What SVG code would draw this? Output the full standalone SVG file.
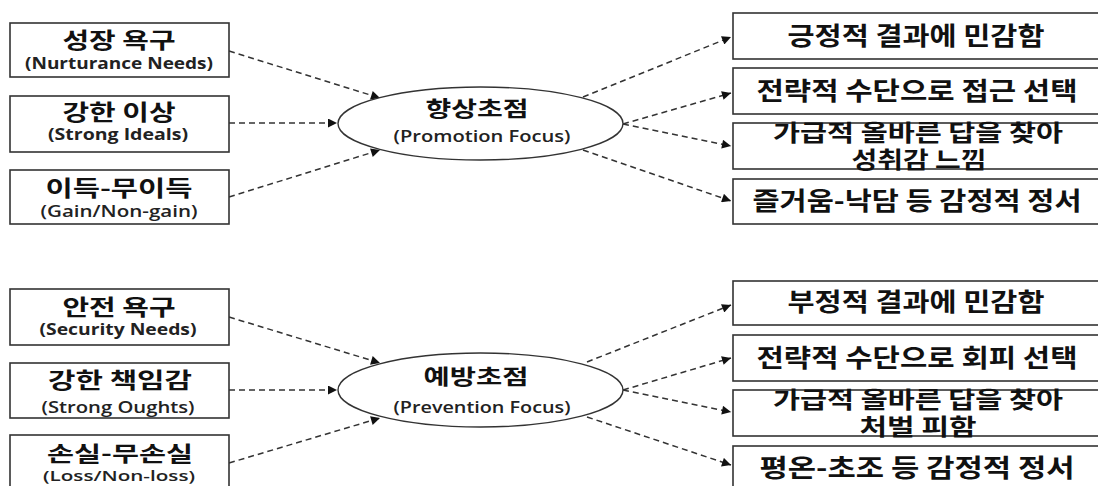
<svg xmlns="http://www.w3.org/2000/svg" width="1098" height="486" viewBox="0 0 1098 486">
<defs>
<marker id="ah" viewBox="0 0 10 10" refX="10" refY="5" markerWidth="10" markerHeight="9" markerUnits="userSpaceOnUse" orient="auto">
<path d="M0,0 L10,5 L0,10 z" fill="#111"/>
</marker>
<style>
.box{fill:#fff;stroke:#333;stroke-width:1.6}
.ell{fill:#fff;stroke:#333;stroke-width:1.4}
.ko{font-family:"Noto Sans CJK KR","Noto Sans",sans-serif;font-weight:700;fill:#111;text-anchor:middle}
.en{font-family:"Open Sans","Noto Sans","Liberation Sans",sans-serif;font-weight:700;fill:#222;text-anchor:middle}
.enr{font-family:"Open Sans","Noto Sans","Liberation Sans",sans-serif;font-weight:600;fill:#222;text-anchor:middle}
.k22{font-size:22px}
.k25{font-size:25px}
.k23{font-size:23px}
.e15{font-size:16px}
.c{fill:none;stroke:#333;stroke-width:1.5;stroke-dasharray:6 4;marker-end:url(#ah)}
</style>
</defs>
<rect width="1098" height="486" fill="#fff"/>

<g id="connectors">
<line class="c" x1="229" y1="51" x2="380" y2="98"/>
<line class="c" x1="229" y1="123" x2="337" y2="123"/>
<line class="c" x1="229" y1="197" x2="380" y2="150"/>
<line class="c" x1="583" y1="97" x2="731" y2="37"/>
<line class="c" x1="623" y1="124" x2="731" y2="93"/>
<line class="c" x1="623" y1="124" x2="731" y2="146"/>
<line class="c" x1="583" y1="150" x2="731" y2="201"/>

<line class="c" x1="229" y1="317" x2="380" y2="363"/>
<line class="c" x1="229" y1="390" x2="337" y2="390"/>
<line class="c" x1="229" y1="463" x2="380" y2="418"/>
<line class="c" x1="587" y1="362" x2="731" y2="305"/>
<line class="c" x1="623" y1="390" x2="731" y2="358"/>
<line class="c" x1="623" y1="390" x2="731" y2="412"/>
<line class="c" x1="587" y1="417" x2="731" y2="465"/>
</g>

<g id="n-nurturance">
<rect class="box" x="10" y="23" width="219" height="54"/>
<text class="ko k22" x="119" y="48" textLength="113" lengthAdjust="spacingAndGlyphs">성장 욕구</text>
<text class="en e15" x="119" y="69" textLength="188" lengthAdjust="spacingAndGlyphs">(Nurturance Needs)</text>
</g>
<g id="n-ideals">
<rect class="box" x="10" y="96" width="219" height="56"/>
<text class="ko k22" x="119" y="120" textLength="113" lengthAdjust="spacingAndGlyphs">강한 이상</text>
<text class="en e15" x="118" y="140" textLength="140" lengthAdjust="spacingAndGlyphs">(Strong Ideals)</text>
</g>
<g id="n-gain">
<rect class="box" x="10" y="170" width="219" height="54"/>
<text class="ko k22" x="119" y="196" textLength="147" lengthAdjust="spacingAndGlyphs">이득-무이득</text>
<text class="enr e15" x="119" y="217" textLength="157" lengthAdjust="spacingAndGlyphs">(Gain/Non-gain)</text>
</g>

<g id="n-promotion">
<ellipse class="ell" cx="480.5" cy="123.5" rx="142.5" ry="36.5"/>
<text class="ko" style="font-size:21px" x="477" y="116" textLength="103" lengthAdjust="spacingAndGlyphs">향상초점</text>
<text class="enr e15" x="482" y="142" textLength="177" lengthAdjust="spacingAndGlyphs">(Promotion Focus)</text>
</g>

<g id="n-p1">
<rect class="box" x="733" y="13" width="380" height="46"/>
<text class="ko k25" x="916" y="45" textLength="257" lengthAdjust="spacingAndGlyphs">긍정적 결과에 민감함</text>
</g>
<g id="n-p2">
<rect class="box" x="733" y="68" width="380" height="46"/>
<text class="ko k25" x="917" y="100" textLength="321" lengthAdjust="spacingAndGlyphs">전략적 수단으로 접근 선택</text>
</g>
<g id="n-p3">
<rect class="box" x="733" y="123" width="380" height="46"/>
<text class="ko k23" x="918" y="141" textLength="290" lengthAdjust="spacingAndGlyphs">가급적 올바른 답을 찾아</text>
<text class="ko k23" x="919" y="168" textLength="135" lengthAdjust="spacingAndGlyphs">성취감 느낌</text>
</g>
<g id="n-p4">
<rect class="box" x="733" y="179" width="380" height="45"/>
<text class="ko k25" x="917" y="210" textLength="329" lengthAdjust="spacingAndGlyphs">즐거움-낙담 등 감정적 정서</text>
</g>

<g id="n-security">
<rect class="box" x="10" y="289" width="219" height="56"/>
<text class="ko k22" x="119" y="315" textLength="113" lengthAdjust="spacingAndGlyphs">안전 욕구</text>
<text class="en e15" x="118" y="335" textLength="157" lengthAdjust="spacingAndGlyphs">(Security Needs)</text>
</g>
<g id="n-oughts">
<rect class="box" x="10" y="363" width="219" height="55"/>
<text class="ko k22" x="120" y="388" textLength="144" lengthAdjust="spacingAndGlyphs">강한 책임감</text>
<text class="enr e15" x="118" y="413" textLength="153" lengthAdjust="spacingAndGlyphs">(Strong Oughts)</text>
</g>
<g id="n-loss">
<rect class="box" x="10" y="435" width="219" height="60"/>
<text class="ko" style="font-size:21px" x="120" y="461" textLength="146" lengthAdjust="spacingAndGlyphs">손실-무손실</text>
<text class="enr" style="font-size:15px" x="119" y="481" textLength="152" lengthAdjust="spacingAndGlyphs">(Loss/Non-loss)</text>
</g>

<g id="n-prevention">
<ellipse class="ell" cx="480.5" cy="390" rx="142.5" ry="37"/>
<text class="ko" style="font-size:21px" x="476" y="384" textLength="105" lengthAdjust="spacingAndGlyphs">예방초점</text>
<text class="enr e15" x="482" y="413" textLength="177" lengthAdjust="spacingAndGlyphs">(Prevention Focus)</text>
</g>

<g id="n-v1">
<rect class="box" x="733" y="281" width="380" height="44"/>
<text class="ko k25" x="916" y="311" textLength="257" lengthAdjust="spacingAndGlyphs">부정적 결과에 민감함</text>
</g>
<g id="n-v2">
<rect class="box" x="733" y="335" width="380" height="46"/>
<text class="ko k25" x="917" y="367" textLength="321" lengthAdjust="spacingAndGlyphs">전략적 수단으로 회피 선택</text>
</g>
<g id="n-v3">
<rect class="box" x="733" y="390" width="380" height="46"/>
<text class="ko k23" x="918" y="408" textLength="290" lengthAdjust="spacingAndGlyphs">가급적 올바른 답을 찾아</text>
<text class="ko k23" x="918" y="435" textLength="117" lengthAdjust="spacingAndGlyphs">처벌 피함</text>
</g>
<g id="n-v4">
<rect class="box" x="733" y="446" width="380" height="50"/>
<text class="ko k25" x="917" y="477" textLength="315" lengthAdjust="spacingAndGlyphs">평온-초조 등 감정적  정서</text>
</g>
</svg>
